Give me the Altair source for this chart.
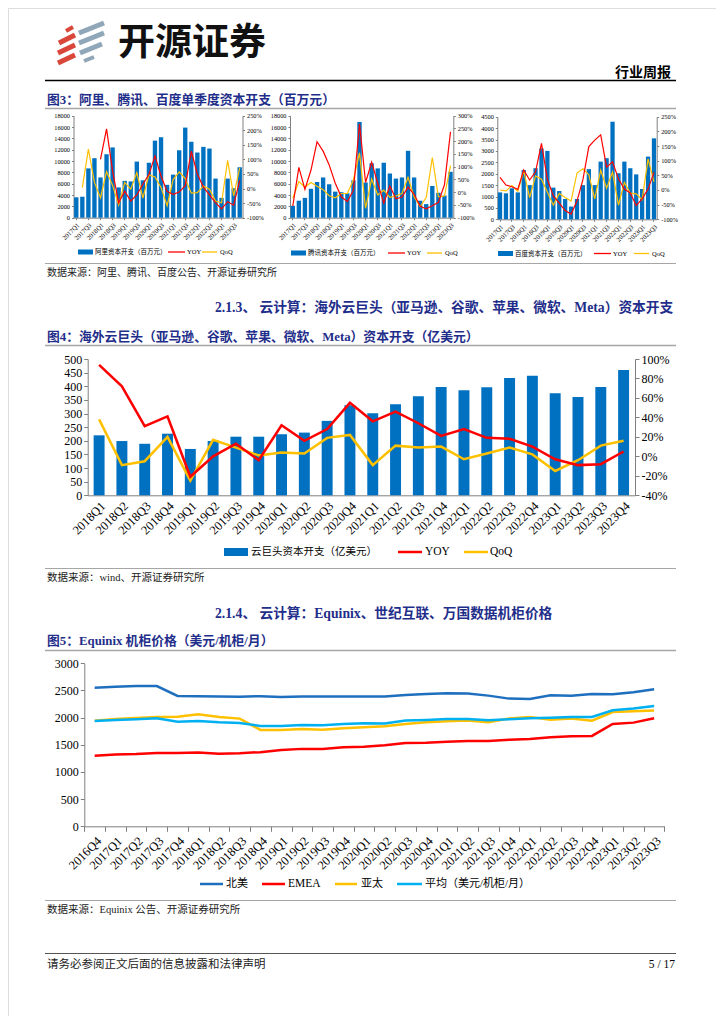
import altair as alt
import pandas as pd

# ---------------- data ----------------
QUARTERS = ["2016Q4",
            "2017Q1", "2017Q2", "2017Q3", "2017Q4",
            "2018Q1", "2018Q2", "2018Q3", "2018Q4",
            "2019Q1", "2019Q2", "2019Q3", "2019Q4",
            "2020Q1", "2020Q2", "2020Q3", "2020Q4",
            "2021Q1", "2021Q2", "2021Q3", "2021Q4",
            "2022Q1", "2022Q2", "2022Q3", "2022Q4",
            "2023Q1", "2023Q2", "2023Q3", "2023Q4"]

ALI_Q = QUARTERS[1:29]
TEN_Q = QUARTERS[1:28]
BD_Q = QUARTERS[1:28]
CLOUD_Q = QUARTERS[5:29]
EQX_Q = QUARTERS[0:28]

ali_capex = [3600, 3700, 8700, 10500, 7100, 11200, 12400, 5350, 6500, 6400, 9900, 6600, 9700, 13600,
             14200, 5800, 7600, 11900, 15900, 13400, 11500, 12500, 12200, 6900, 3500, 6900, 5200, 8900]
ali_yoy = [None, None, None, None, 100, 205, 60, -49, -9, -43, -22, 15, 48, 112,
           43, -10, -20, -12, 10, 128, 50, 5, -22, -48, -70, -45, -57, 28]
ali_qoq = [None, 3, 135, 21, -32, 58, 11, -57, 21, -2, 55, -33, 47, 40,
           4, -59, 31, 57, 34, -16, -14, 9, -2, -43, -49, 97, -25, 71]

ten_capex = [2100, 3000, 3500, 5100, 6300, 7100, 5900, 4600, 4500, 4300, 6600, 16900, 6200, 9600,
             8700, 9700, 7800, 6900, 7100, 11800, 7100, 3000, 2400, 5600, 4400, 3900, 8100]
ten_yoy = [-54, 97, 11, 87, 198, 161, 107, 35, -18, -37, 8, 268, 38, 118,
           35, -43, 24, -26, -19, 20, -8, -55, -65, -53, -40, 29, 237]
ten_qoq = [-24, 42, 20, 38, 23, 10, -14, -22, -5, -5, 50, 154, -63, 52,
           -11, 8, -20, -15, -5, 58, -18, -57, -20, 136, -18, -15, 104]

bd_capex = [1180, 1140, 1360, 1180, 2160, 1500, 2240, 3110, 3000, 1390, 1240, 890, 560, 890,
            1500, 2200, 1500, 2530, 2680, 4280, 2020, 2530, 2240, 1970, 1330, 2750, 3550]
bd_yoy = [43, 17, 11, 2, 68, 34, 62, 159, 36, -20, -45, -70, -82, -38,
          35, 148, 170, 188, 78, 96, 38, 3, -10, -53, -30, 3, 60]
bd_qoq = [0, -3, 15, -5, 65, -26, 48, 37, -8, -52, -12, -26, -38, 58,
          72, 52, -30, 68, 6, 61, -52, 26, -11, -13, -33, 106, 28]

cloud_capex = [220, 199, 189, 226, 170, 199, 215, 215, 224, 230, 273, 330,
               301, 334, 363, 397, 385, 396, 430, 439, 374, 361, 397, 460]
cloud_yoy = [94, 72, 31, 41, -21, 0, 13, -4, 32, 16, 28, 55,
             36, 46, 34, 21, 28, 19, 18, 10, -3, -9, -8, 5]
cloud_qoq = [38, -9, -5, 20, -25, 17, 9, 1, 4, 3, 19, 22,
             -9, 11, 9, 10, -3, 3, 9, 2, -15, -4, 11, 16]

eqx_na = [2552, 2570, 2580, 2580, 2400, 2395, 2390, 2385, 2395, 2380, 2390, 2390, 2390, 2390,
          2390, 2417, 2436, 2448, 2442, 2405, 2350, 2343, 2411, 2405, 2436, 2429, 2466, 2521]
eqx_emea = [1300, 1320, 1330, 1350, 1350, 1360, 1335, 1345, 1365, 1405, 1425, 1425, 1455, 1465,
            1490, 1534, 1540, 1558, 1570, 1570, 1595, 1607, 1638, 1656, 1663, 1883, 1908, 1988]
eqx_apac = [1945, 1975, 1994, 2012, 2018, 2061, 2012, 1982, 1773, 1773, 1791, 1779, 1804, 1822,
            1840, 1883, 1914, 1932, 1945, 1914, 1982, 2012, 1963, 1982, 1945, 2104, 2117, 2129]
eqx_avg = [1939, 1957, 1969, 1988, 1926, 1939, 1914, 1902, 1847, 1847, 1865, 1859, 1883, 1896,
           1890, 1945, 1957, 1975, 1975, 1951, 1969, 1988, 2000, 2012, 2012, 2135, 2166, 2215]

# ---------------- style ----------------
W, H = 708, 1008
OX, OY = 8, 8
NUM = "Liberation Serif"
CJK = "Liberation Serif, Noto Sans CJK SC"
NAVY = "#1F2E8A"
BLUE = "#0070C0"
RED = "#FF0000"
YEL = "#FFC000"


def px(x):
    return x - OX


def py(y):
    return y - OY


ONE = pd.DataFrame({"t": [""]})


def txt(s, x, y, size=10, weight="normal", color="#000", align="left", font=CJK):
    return alt.Chart(pd.DataFrame({"t": [s]})).mark_text(
        align=align, baseline="middle", fontSize=size, fontWeight=weight, color=color, font=font
    ).encode(text="t:N", x=alt.value(px(x)), y=alt.value(py(y)))


def seg(x1, y1, x2, y2, color, width, cap="butt"):
    return alt.Chart(ONE).mark_rule(color=color, strokeWidth=width, strokeCap=cap).encode(
        x=alt.value(px(x1)), x2=alt.value(px(x2)), y=alt.value(py(y1)), y2=alt.value(py(y2)))


def box(x1, y1, x2, y2, color):
    return alt.Chart(ONE).mark_rect(color=color).encode(
        x=alt.value(px(x1)), x2=alt.value(px(x2)), y=alt.value(py(y1)), y2=alt.value(py(y2)))


def combo(cats, vals, yoy, qoq, x0, x1, yb, yt, ydom, ystep, pdom, pstep, label_cats,
          fs, xfs, lw, pin, pout, tick=2, xticks=False, lfont=NUM, xpad=2):
    bars_df = pd.DataFrame({"q": cats, "v": vals})
    rows = []
    for name, series in (("QoQ", qoq), ("YOY", yoy)):
        for c, v in zip(cats, series):
            if v is not None:
                rows.append({"q": c, "s": name, "p": v})
    lines_df = pd.DataFrame(rows)
    xs = alt.Scale(type="band", domain=cats, range=[px(x0), px(x1)],
                   paddingInner=pin, paddingOuter=pout)
    xaxis = alt.Axis(orient="bottom", offset=-(H - py(yb)), labelAngle=-45, values=label_cats,
                     labelFont=lfont, labelFontSize=xfs, labelColor="#000", domainColor="#808080",
                     ticks=xticks, tickSize=tick, tickColor="#808080", grid=False, title=None,
                     labelPadding=xpad)
    yaxis = alt.Axis(orient="left", offset=-px(x0), values=list(range(ydom[0], ydom[1] + 1, ystep)),
                     labelFont=lfont, labelFontSize=fs, labelColor="#000", domainColor="#808080",
                     tickColor="#808080", tickSize=tick, grid=False, title=None, format="d",
                     labelPadding=2)
    paxis = alt.Axis(orient="right", offset=-(W - px(x1)),
                     values=list(range(pdom[0], pdom[1] + 1, pstep)),
                     labelFont=lfont, labelFontSize=fs, labelColor="#000", domainColor="#808080",
                     tickColor="#808080", tickSize=tick, grid=False, title=None,
                     labelExpr="datum.value + '%'", labelPadding=2)
    bars = alt.Chart(bars_df).mark_bar(color=BLUE).encode(
        x=alt.X("q:N", scale=xs, axis=xaxis, sort=cats),
        y=alt.Y("v:Q", scale=alt.Scale(domain=ydom, range=[py(yb), py(yt)], nice=False, zero=True),
                axis=yaxis),
    )
    lines = alt.Chart(lines_df).mark_line(strokeWidth=lw).encode(
        x=alt.X("q:N", scale=xs, axis=xaxis, sort=cats, bandPosition=0.5),
        y=alt.Y("p:Q", scale=alt.Scale(domain=pdom, range=[py(yb), py(yt)], nice=False, zero=False),
                axis=paxis),
        color=alt.Color("s:N", scale=alt.Scale(domain=["YOY", "QoQ"], range=[RED, YEL]), legend=None),
        order=alt.Order("q:N"),
    )
    return alt.layer(bars, lines).resolve_scale(y="independent", color="independent")


def legend3(x, y, label, red_x, yel_x, fs=6.5):
    return [
        box(x, y - 2.5, x + 15, y + 2.5, BLUE),
        txt(label, x + 17, y, size=fs, font=CJK),
        seg(red_x, y, red_x + 17, y, RED, 1.3),
        txt("YOY", red_x + 19, y, size=fs, font=NUM),
        seg(yel_x, y, yel_x + 15, y, YEL, 1.3),
        txt("QoQ", yel_x + 18, y, size=fs, font=NUM),
    ]


layers = []

# ---------------- header ----------------
LOGO_GRAY = "#8FA7B8"
LOGO_RED = "#D9463A"
layers += [
    seg(66, 31, 73, 27, LOGO_RED, 4),
    seg(59, 43, 75, 35, LOGO_RED, 5),
    seg(58, 53, 75, 45, LOGO_RED, 5),
    seg(58, 63, 75, 55, LOGO_RED, 5),
    seg(79, 33, 104, 23, LOGO_GRAY, 5),
    seg(79, 43, 104, 33, LOGO_GRAY, 5),
    seg(80, 53, 102, 44, LOGO_GRAY, 5),
    seg(84, 61, 94, 57, LOGO_GRAY, 4),
    txt("开源证券", 118, 44, size=37, weight="bold", color="#111", font="Noto Sans CJK SC"),
    txt("行业周报", 671, 73, size=14, weight="bold", align="right", font="Noto Sans CJK SC"),
    seg(45, 80.5, 676, 80.5, "#000", 1.5),
    txt("图3：阿里、腾讯、百度单季度资本开支（百万元）", 47, 100, size=12.8, weight="bold", color=NAVY),
    seg(45, 108.5, 676, 108.5, "#A6A6A6", 1.5),
]

# ---------------- figure 3 ----------------
layers.append(combo(ALI_Q, ali_capex, ali_yoy, ali_qoq, 73.5, 242.5, 217.7, 115.7,
                    [0, 18000], 2000, [-100, 250], 50, ALI_Q[::2], 6.3, 6.5, 1.2, 0.28, 0.1,
                    xticks=True))
layers.append(combo(TEN_Q, ten_capex, ten_yoy, ten_qoq, 290, 453.3, 217.7, 115.7,
                    [0, 18000], 2000, [-100, 300], 50, TEN_Q[::2], 6.3, 6.5, 1.2, 0.28, 0.1,
                    xticks=True))
layers.append(combo(BD_Q, bd_capex, bd_yoy, bd_qoq, 497.3, 656.7, 219.3, 116.7,
                    [0, 4500], 500, [-100, 250], 50, BD_Q[::2], 6.3, 6.5, 1.2, 0.28, 0.1,
                    xticks=True))
layers += legend3(78, 252, "阿里资本开支（百万元）", 168, 202)
layers += legend3(291, 253, "腾讯资本开支（百万元）", 388, 427)
layers += legend3(498, 253.5, "百度资本开支（百万元）", 594, 634)

layers += [
    seg(45, 263.5, 676, 263.5, "#A6A6A6", 1),
    txt("数据来源：阿里、腾讯、百度公告、开源证券研究所", 47, 273, size=10, color="#222"),
    txt("2.1.3、 云计算：海外云巨头（亚马逊、谷歌、苹果、微软、Meta）资本开支", 215, 308,
        size=13.7, weight="bold", color=NAVY),
    txt("图4：海外云巨头（亚马逊、谷歌、苹果、微软、Meta）资本开支（亿美元）", 47, 337,
        size=12.8, weight="bold", color=NAVY),
    seg(45, 345.5, 676, 345.5, "#A6A6A6", 1.5),
]

# ---------------- figure 4 ----------------
layers.append(combo(CLOUD_Q, cloud_capex, cloud_yoy, cloud_qoq, 87.7, 635, 495.3, 359,
                    [0, 500], 50, [-40, 100], 20, CLOUD_Q, 12, 12.5, 2.5, 0.52, 0.26, tick=4,
                    xpad=4))
layers += [
    box(224, 548, 248, 556, BLUE),
    txt("云巨头资本开支（亿美元）", 251, 552, size=10.5),
    seg(398, 552, 422, 552, RED, 2.5),
    txt("YOY", 425, 552, size=11.5, font=NUM),
    seg(464, 552, 488, 552, YEL, 2.5),
    txt("QoQ", 490, 552, size=11.5, font=NUM),
    seg(45, 568.5, 676, 568.5, "#A6A6A6", 1),
    txt("数据来源：wind、开源证券研究所", 47, 578, size=10.5, color="#222"),
    txt("2.1.4、 云计算：Equinix、世纪互联、万国数据机柜价格", 215, 614,
        size=13.7, weight="bold", color=NAVY),
    txt("图5：Equinix 机柜价格（美元/机柜/月）", 47, 641, size=12.8, weight="bold", color=NAVY),
    seg(45, 650.5, 676, 650.5, "#A6A6A6", 1.5),
]

# ---------------- figure 5 ----------------
EQX_SERIES = ["北美", "EMEA", "亚太", "平均（美元/机柜/月）"]
EQX_COLORS = ["#1F6FBF", "#FF0000", "#FFC000", "#00B0F0"]
eqx_rows = []
for name, series in zip(EQX_SERIES, [eqx_na, eqx_emea, eqx_apac, eqx_avg]):
    for q, v in zip(EQX_Q, series):
        eqx_rows.append({"q": q, "s": name, "v": v})
eqx_df = pd.DataFrame(eqx_rows)
X0, X1, YB, YT = 84.3, 664.5, 826.3, 663.3
fig5 = alt.Chart(eqx_df).mark_line(strokeWidth=2.5).encode(
    x=alt.X("q:N", sort=EQX_Q, bandPosition=0.5,
            scale=alt.Scale(type="band", domain=EQX_Q, range=[px(X0), px(X1)],
                            paddingInner=0, paddingOuter=0),
            axis=alt.Axis(orient="bottom", offset=-(H - py(YB)), labelAngle=-45, tickBand="extent",
                          labelFont=NUM, labelFontSize=12.5, labelColor="#000", domainColor="#808080",
                          tickColor="#808080", tickSize=5, grid=False, title=None, labelPadding=3)),
    y=alt.Y("v:Q", scale=alt.Scale(domain=[0, 3000], range=[py(YB), py(YT)], nice=False),
            axis=alt.Axis(orient="left", offset=-px(X0), values=list(range(0, 3001, 500)),
                          labelFont=NUM, labelFontSize=12, labelColor="#000", domainColor="#808080",
                          tickColor="#808080", tickSize=4, grid=False, title=None, format="d",
                          labelPadding=2)),
    color=alt.Color("s:N", scale=alt.Scale(domain=EQX_SERIES, range=EQX_COLORS), legend=None),
)
layers.append(fig5)
layers += [
    seg(200, 884, 223, 884, EQX_COLORS[0], 2.5),
    txt("北美", 226, 884, size=11),
    seg(262, 884, 285, 884, EQX_COLORS[1], 2.5),
    txt("EMEA", 288, 884, size=11.5, font=NUM),
    seg(335, 884, 357, 884, EQX_COLORS[2], 2.5),
    txt("亚太", 361, 884, size=11),
    seg(397, 884, 422, 884, EQX_COLORS[3], 2.5),
    txt("平均（美元/机柜/月）", 425, 884, size=11),
    seg(45, 900.5, 676, 900.5, "#A6A6A6", 1),
    txt("数据来源：Equinix 公告、开源证券研究所", 47, 910, size=10.5, color="#222"),
    seg(45, 953.5, 676, 953.5, "#555", 1),
    txt("请务必参阅正文后面的信息披露和法律声明", 47, 965, size=11.5, color="#222"),
    txt("5 / 17", 675, 965, size=11.5, align="right", font=NUM),
]

chart = alt.layer(*layers).resolve_scale(
    x="independent", y="independent", color="independent"
).properties(
    width=W, height=H, padding=0, autosize=alt.AutoSizeParams(type="none")
).configure_view(stroke=None).configure(background="white")

chart.save("out.html", embed_options={"renderer": "svg", "actions": False})
